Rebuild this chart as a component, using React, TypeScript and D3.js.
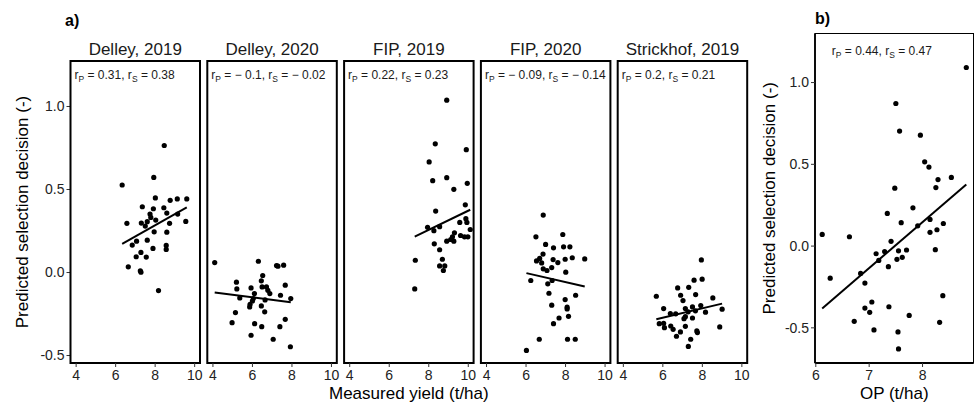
import React from "react";
import * as d3 from "d3";

type Pt = [number, number];

// Measured yield (t/ha) vs predicted selection decision, one array per environment
const delley2019: Pt[] = [
  [8.46, 0.765], [6.33, 0.527], [7.93, 0.573], [8.01, 0.449], [7.35, 0.396], [7.91, 0.384],
  [8.44, 0.39], [8.76, 0.435], [9.12, 0.443], [9.6, 0.443], [7.74, 0.352], [7.78, 0.332],
  [7.6, 0.306], [7.5, 0.28], [8.03, 0.316], [8.59, 0.358], [7.3, 0.298], [6.57, 0.296],
  [8.73, 0.296], [9.14, 0.352], [9.55, 0.308], [7.95, 0.245], [8.59, 0.243], [7.6, 0.195],
  [7.06, 0.189], [6.84, 0.165], [7.89, 0.145], [8.56, 0.163], [8.56, 0.139], [7.28, 0.121],
  [7.04, 0.095], [7.55, 0.093], [6.64, 0.034], [7.25, 0.01], [7.28, 0.002], [8.17, -0.109],
];
const delley2020: Pt[] = [
  [4.09, 0.06], [6.3, 0.068], [7.22, 0.042], [7.29, 0.038], [7.58, 0.044], [6.52, -0.018],
  [5.19, -0.058], [6.45, -0.05], [5.21, -0.099], [5.93, -0.093], [6.49, -0.087], [6.71, -0.087],
  [6.78, -0.107], [6.88, -0.127], [7.66, -0.076], [7.42, -0.137], [5.36, -0.153], [6.1, -0.127],
  [6.05, -0.157], [6.0, -0.171], [6.64, -0.165], [7.94, -0.157], [5.88, -0.191], [5.86, -0.207],
  [6.45, -0.201], [5.14, -0.241], [6.62, -0.237], [7.66, -0.282], [4.97, -0.302], [6.11, -0.308],
  [6.47, -0.326], [7.39, -0.326], [5.93, -0.378], [7.05, -0.402], [7.92, -0.447],
];
const fip2019: Pt[] = [
  [8.91, 1.038], [8.33, 0.775], [9.9, 0.74], [8.02, 0.666], [8.2, 0.553], [8.91, 0.571],
  [9.27, 0.501], [9.95, 0.537], [9.85, 0.408], [8.35, 0.37], [9.88, 0.324], [9.93, 0.302],
  [9.57, 0.302], [10.1, 0.259], [7.94, 0.272], [8.55, 0.276], [8.26, 0.252], [9.3, 0.239],
  [9.61, 0.223], [9.81, 0.215], [9.98, 0.215], [9.2, 0.215], [9.11, 0.199], [8.91, 0.189],
  [9.27, 0.189], [8.28, 0.173], [8.55, 0.137], [7.32, 0.074], [8.69, 0.08], [8.55, 0.04],
  [8.81, 0.04], [8.74, 0.012], [7.29, -0.099],
];
const fip2020: Pt[] = [
  [6.87, 0.346], [6.5, 0.215], [7.86, 0.229], [6.99, 0.169], [7.39, 0.149], [7.9, 0.155],
  [8.22, 0.155], [6.86, 0.111], [6.69, 0.085], [6.53, 0.07], [6.79, 0.058], [7.37, 0.078],
  [7.61, 0.06], [7.98, 0.08], [8.34, 0.089], [8.97, 0.082], [7.3, 0.03], [6.87, 0.022],
  [7.06, 0.012], [8.01, 0.002], [6.24, -0.048], [7.32, -0.048], [7.1, -0.068], [7.16, -0.125],
  [7.98, -0.163], [8.51, -0.137], [7.3, -0.197], [8.08, -0.209], [8.08, -0.219], [8.15, -0.264],
  [7.67, -0.274], [7.39, -0.308], [6.67, -0.402], [8.1, -0.402], [8.49, -0.402], [6.02, -0.469],
];
const strickhof2019: Pt[] = [
  [7.95, 0.076], [7.99, -0.04], [7.58, -0.046], [6.75, -0.093], [7.31, -0.089], [5.67, -0.143],
  [6.9, -0.137], [7.66, -0.133], [8.53, -0.153], [7.02, -0.169], [6.04, -0.217], [7.14, -0.217],
  [7.5, -0.207], [7.92, -0.199], [9.0, -0.221], [7.28, -0.237], [7.65, -0.231], [8.16, -0.239],
  [6.38, -0.247], [6.65, -0.249], [7.14, -0.266], [7.5, -0.274], [7.07, -0.278], [5.82, -0.308],
  [6.04, -0.306], [6.08, -0.332], [6.4, -0.322], [6.52, -0.342], [7.14, -0.324], [7.72, -0.352],
  [7.75, -0.362], [6.89, -0.358], [8.88, -0.328], [6.69, -0.384], [7.41, -0.402], [7.29, -0.445],
];

const facetNames = ["Delley, 2019", "Delley, 2020", "FIP, 2019", "FIP, 2020", "Strickhof, 2019"];
const facetData = [delley2019, delley2020, fip2019, fip2020, strickhof2019];
const facetPearson = [0.31, -0.1, 0.22, -0.09, 0.2];
const facetSpearman = [0.38, -0.02, 0.23, -0.14, 0.21];
const yieldTicks = [4, 6, 8, 10];
const decisionTicks = [-0.5, 0, 0.5, 1.0];

// OP (t/ha) vs predicted selection decision
const opData: Pt[] = [
  [8.82, 1.092], [7.5, 0.872], [7.57, 0.703], [7.96, 0.678], [8.04, 0.515], [8.12, 0.483],
  [8.54, 0.42], [8.29, 0.407], [8.25, 0.358], [7.48, 0.354], [7.82, 0.234], [7.34, 0.2],
  [8.14, 0.163], [7.6, 0.143], [8.39, 0.138], [7.91, 0.124], [8.27, 0.1], [8.14, 0.084],
  [6.12, 0.071], [6.63, 0.057], [7.41, 0.029], [7.7, -0.024], [7.55, -0.029], [8.24, -0.022],
  [7.29, -0.033], [7.13, -0.047], [7.62, -0.069], [7.52, -0.081], [7.18, -0.088], [7.36, -0.126],
  [6.84, -0.167], [6.27, -0.196], [6.92, -0.226], [8.38, -0.303], [7.05, -0.342], [6.92, -0.379],
  [7.37, -0.371], [7.01, -0.405], [6.72, -0.46], [7.75, -0.424], [8.32, -0.466], [7.09, -0.513],
  [7.54, -0.525], [7.55, -0.629],
];
const opPearson = 0.44;
const opSpearman = 0.47;
const opTicks = [6, 7, 8];

const FONT = "'Liberation Sans', Arial, Helvetica, sans-serif";

// Least-squares line spanning the observed x range
function fitLine(pts: Pt[]): [Pt, Pt] {
  const mx = d3.mean(pts, (p) => p[0]) as number;
  const my = d3.mean(pts, (p) => p[1]) as number;
  let sxy = 0, sxx = 0;
  for (const [x, y] of pts) {
    sxy += (x - mx) * (y - my);
    sxx += (x - mx) * (x - mx);
  }
  const b = sxy / sxx;
  const a = my - b * mx;
  const [x0, x1] = d3.extent(pts, (p) => p[0]) as [number, number];
  return [[x0, a + b * x0], [x1, a + b * x1]];
}

const fmtR = (v: number) => (v < 0 ? `\u2212 ${Math.abs(v)}` : `${v}`);

function CorrLabel({ x, y, rp, rs }: { x: number; y: number; rp: number; rs: number }) {
  return (
    <text x={x} y={y} fontSize={12} fontFamily={FONT} fill="#1a1a1a">
      <tspan>r</tspan>
      <tspan dy={3} fontSize={8.5}>P</tspan>
      <tspan dy={-3}>{` = ${fmtR(rp)}, r`}</tspan>
      <tspan dy={3} fontSize={8.5}>S</tspan>
      <tspan dy={-3}>{` = ${fmtR(rs)}`}</tspan>
    </text>
  );
}

export default function App() {
  // facet grid geometry
  const facetLeft0 = 70.5;
  const facetStep = 136.8;
  const facetW = 129.5;
  const top = 61;
  const bottom = 363;

  const xA = d3.scaleLinear().domain([3.715, 10.27]).range([0, facetW]);
  const yA = d3.scaleLinear().domain([-0.545, 1.274]).range([bottom, top]);

  const bLeft = 815;
  const bRight = 973.5;
  const bTop = 33.5;
  const xB = d3.scaleLinear().domain([5.985, 8.955]).range([bLeft, bRight]);
  const yB = d3.scaleLinear().domain([-0.715, 1.3]).range([bottom, bTop]);

  const line = d3.line<Pt>();
  const opFit = fitLine(opData);

  return (
    <svg width={976} height={410} style={{ position: "absolute", left: 0, top: 0, background: "#fff" }}>
      <rect width={976} height={410} fill="#fff" />

      {/* panel a */}
      <text x={65} y={25.5} fontSize={16} fontWeight="bold" fontFamily={FONT}>a)</text>
      <text
        transform={`translate(27.5, ${(top + bottom) / 2}) rotate(-90)`}
        textAnchor="middle"
        fontSize={17}
        fontFamily={FONT}
      >
        Predicted selection decision (-)
      </text>
      {decisionTicks.map((t) => (
        <g key={t}>
          <line x1={facetLeft0 - 4} x2={facetLeft0} y1={yA(t)} y2={yA(t)} stroke="#333" strokeWidth={1} />
          <text x={facetLeft0 - 6} y={yA(t)} dy="0.35em" textAnchor="end" fontSize={14} fontFamily={FONT} fill="#222">
            {t.toFixed(1)}
          </text>
        </g>
      ))}
      {facetData.map((pts, i) => {
        const ox = facetLeft0 + i * facetStep;
        const fit = fitLine(pts);
        return (
          <g key={facetNames[i]}>
            <text x={ox + facetW / 2} y={54.5} textAnchor="middle" fontSize={17} fontFamily={FONT} fill="#1a1a1a">
              {facetNames[i]}
            </text>
            {pts.map((p, j) => (
              <circle key={j} cx={ox + xA(p[0])} cy={yA(p[1])} r={2.6} fill="#000" />
            ))}
            <path
              d={line(fit.map((p) => [ox + xA(p[0]), yA(p[1])] as Pt)) || ""}
              stroke="#000"
              strokeWidth={2}
              fill="none"
            />
            <CorrLabel x={ox + 4} y={79} rp={facetPearson[i]} rs={facetSpearman[i]} />
            <rect x={ox} y={top} width={facetW} height={bottom - top} fill="none" stroke="#000" strokeWidth={2} />
            {yieldTicks.map((t) => (
              <g key={t}>
                <line x1={ox + xA(t)} x2={ox + xA(t)} y1={bottom} y2={bottom + 4} stroke="#333" strokeWidth={1} />
                <text x={ox + xA(t)} y={380} textAnchor="middle" fontSize={14} fontFamily={FONT} fill="#222">
                  {t}
                </text>
              </g>
            ))}
          </g>
        );
      })}
      <text
        x={facetLeft0 + (4 * facetStep + facetW) / 2}
        y={398.5}
        textAnchor="middle"
        fontSize={17}
        fontFamily={FONT}
      >
        Measured yield (t/ha)
      </text>

      {/* panel b */}
      <text x={815} y={24} fontSize={16} fontWeight="bold" fontFamily={FONT}>b)</text>
      <text
        transform={`translate(775, ${(bTop + bottom) / 2}) rotate(-90)`}
        textAnchor="middle"
        fontSize={17}
        fontFamily={FONT}
      >
        Predicted selection decision (-)
      </text>
      <rect x={bLeft} y={bTop} width={bRight - bLeft} height={bottom - bTop} fill="none" stroke="#000" strokeWidth={1} />
      {opData.map((p, j) => (
        <circle key={j} cx={xB(p[0])} cy={yB(p[1])} r={2.6} fill="#000" />
      ))}
      <path d={line(opFit.map((p) => [xB(p[0]), yB(p[1])] as Pt)) || ""} stroke="#000" strokeWidth={2} fill="none" />
      <CorrLabel x={xB(6.3)} y={55} rp={opPearson} rs={opSpearman} />
      <line x1={bLeft} x2={bLeft} y1={bTop} y2={bottom} stroke="#000" strokeWidth={1.8} />
      <line x1={bLeft} x2={bRight} y1={bottom} y2={bottom} stroke="#000" strokeWidth={1.8} />
      {decisionTicks.map((t) => (
        <g key={t}>
          <line x1={bLeft - 4} x2={bLeft} y1={yB(t)} y2={yB(t)} stroke="#333" strokeWidth={1} />
          <text x={bLeft - 6} y={yB(t)} dy="0.35em" textAnchor="end" fontSize={14} fontFamily={FONT} fill="#222">
            {t.toFixed(1)}
          </text>
        </g>
      ))}
      {opTicks.map((t) => (
        <g key={t}>
          <line x1={xB(t)} x2={xB(t)} y1={bottom} y2={bottom + 4} stroke="#333" strokeWidth={1} />
          <text x={xB(t)} y={380} textAnchor="middle" fontSize={14} fontFamily={FONT} fill="#222">
            {t}
          </text>
        </g>
      ))}
      <text x={(bLeft + bRight) / 2} y={398.5} textAnchor="middle" fontSize={17} fontFamily={FONT}>
        OP (t/ha)
      </text>
    </svg>
  );
}
